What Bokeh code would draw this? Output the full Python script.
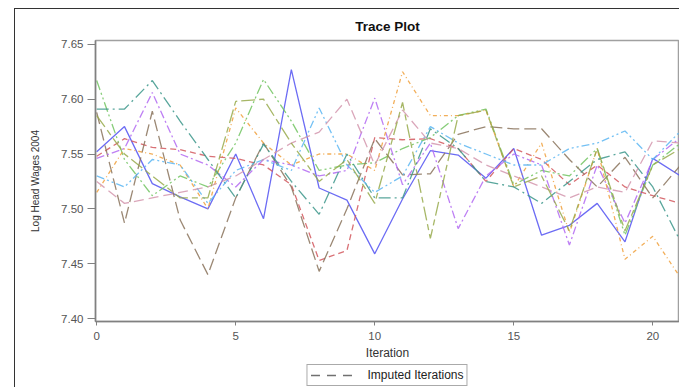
from bokeh.plotting import figure
from bokeh.layouts import column
from bokeh.models import Legend, LegendItem, Range1d, FixedTicker, NumeralTickFormatter, Span
from bokeh.embed import file_html
from bokeh.resources import INLINE

iterations = list(range(22))

blue   = [7.552, 7.575, 7.523, 7.511, 7.500, 7.550, 7.491, 7.627, 7.519, 7.508, 7.459, 7.509, 7.553, 7.549, 7.528, 7.555, 7.476, 7.485, 7.505, 7.470, 7.546, 7.530]
red    = [7.548, 7.564, 7.556, 7.554, 7.548, 7.546, 7.540, 7.522, 7.453, 7.462, 7.565, 7.563, 7.564, 7.555, 7.525, 7.555, 7.545, 7.522, 7.540, 7.520, 7.512, 7.505]
green  = [7.617, 7.545, 7.512, 7.530, 7.520, 7.560, 7.618, 7.580, 7.535, 7.540, 7.542, 7.555, 7.565, 7.585, 7.591, 7.522, 7.535, 7.530, 7.555, 7.476, 7.540, 7.560]
brown  = [7.588, 7.487, 7.589, 7.490, 7.440, 7.510, 7.560, 7.520, 7.443, 7.500, 7.564, 7.531, 7.532, 7.568, 7.575, 7.573, 7.573, 7.545, 7.520, 7.547, 7.510, 7.540]
purple = [7.546, 7.555, 7.606, 7.550, 7.540, 7.520, 7.545, 7.540, 7.530, 7.535, 7.601, 7.522, 7.560, 7.482, 7.530, 7.550, 7.540, 7.467, 7.540, 7.487, 7.545, 7.565]
orange = [7.515, 7.555, 7.550, 7.540, 7.500, 7.592, 7.560, 7.540, 7.550, 7.550, 7.535, 7.625, 7.585, 7.585, 7.590, 7.520, 7.560, 7.478, 7.555, 7.454, 7.475, 7.437]
teal   = [7.591, 7.591, 7.617, 7.580, 7.545, 7.510, 7.559, 7.525, 7.495, 7.550, 7.510, 7.510, 7.573, 7.555, 7.525, 7.520, 7.505, 7.525, 7.545, 7.552, 7.520, 7.470]
ltblue = [7.530, 7.520, 7.545, 7.540, 7.505, 7.535, 7.545, 7.535, 7.592, 7.540, 7.515, 7.530, 7.575, 7.560, 7.550, 7.540, 7.540, 7.555, 7.560, 7.571, 7.545, 7.571]
pink   = [7.525, 7.505, 7.510, 7.515, 7.520, 7.530, 7.545, 7.560, 7.570, 7.600, 7.540, 7.590, 7.560, 7.555, 7.540, 7.530, 7.520, 7.510, 7.520, 7.515, 7.562, 7.560]
olive  = [7.585, 7.550, 7.530, 7.510, 7.510, 7.598, 7.600, 7.560, 7.525, 7.545, 7.505, 7.597, 7.473, 7.585, 7.590, 7.520, 7.530, 7.480, 7.555, 7.480, 7.540, 7.555]

series = [
    (blue,   "#5252f2", "solid"),
    (red,    "#d2585e", "6 4"),
    (green,  "#72c462", "10 3 2 3 2 3"),
    (brown,  "#8a735c", "12 5"),
    (purple, "#b36af2", "8 3 2 3"),
    (orange, "#f0a03c", "4 3 1 3"),
    (teal,   "#3c978b", "12 4 2 4"),
    (ltblue, "#5cb6f2", "8 3 2 3 2 3"),
    (pink,   "#d496ae", "10 5"),
    (olive,  "#98aa4c", "14 4 6 4"),
]

y_ticks = [7.40, 7.45, 7.50, 7.55, 7.60, 7.65]
x_ticks = [0, 5, 10, 15, 20]

p = figure(width=664, height=353, output_backend="svg", toolbar_location=None,
           x_range=Range1d(-0.043, 20.96), y_range=Range1d(7.3973, 7.6535),
           min_border_left=80, min_border_right=0, min_border_top=28, min_border_bottom=39,
           title="Trace Plot")

p.title.align = "center"
p.title.text_font = "Liberation Sans"
p.title.text_font_size = "13.5px"
p.title.text_font_style = "bold"
p.title.text_color = "#111111"
p.title.standoff = 14

p.grid.visible = False
p.outline_line_color = "#a0a0a0"
p.outline_line_width = 1.5

for ax in (p.xaxis, p.yaxis):
    ax.axis_line_color = "#808080"
    ax.axis_line_width = 1.5
    ax.major_tick_line_color = "#808080"
    ax.major_tick_in = 0
    ax.minor_tick_line_color = None
    ax.major_label_text_font = "Liberation Sans"
    ax.major_label_text_font_size = "11.5px"
    ax.major_label_text_color = "#555555"
    ax.axis_label_text_font_style = "normal"
    ax.axis_label_text_color = "#333333"

p.yaxis.major_tick_out = 8
p.yaxis.major_label_standoff = 4
p.xaxis.major_tick_out = 4
p.xaxis.major_label_standoff = 6

p.yaxis.ticker = FixedTicker(ticks=y_ticks)
p.yaxis.formatter = NumeralTickFormatter(format="0.00")
p.yaxis.axis_label = "Log Head Wages 2004"
p.yaxis.axis_label_text_font = "Liberation Sans"
p.yaxis.axis_label_text_font_size = "10px"
p.yaxis.axis_label_standoff = 17
p.xaxis.ticker = FixedTicker(ticks=x_ticks)
p.xaxis.axis_label = "Iteration"
p.xaxis.axis_label_text_font = "Liberation Sans"
p.xaxis.axis_label_text_font_size = "12px"
p.xaxis.axis_label_standoff = 3

for vals, color, dash in series:
    p.line(iterations, vals, line_color=color, line_dash=dash, line_width=1.3, line_alpha=0.85)

p.add_layout(Span(location=21, dimension="height", line_color="#c8c8c8", line_dash="6 4", line_width=1.5))

# legend strip
p2 = figure(width=664, height=25, output_backend="svg", toolbar_location=None,
            x_range=Range1d(0, 1), y_range=Range1d(0, 1),
            min_border_left=80, min_border_right=0, min_border_top=0, min_border_bottom=0)
p2.axis.visible = False
p2.grid.visible = False
p2.outline_line_color = None
legend_r = p2.line([0, 1], [5, 5], line_color="#707070", line_dash="9 7", line_width=1.3)
legend = Legend(items=[LegendItem(label="Imputed Iterations", renderers=[legend_r])],
                orientation="horizontal", location="center",
                border_line_color="#555555", border_line_width=1,
                background_fill_alpha=0,
                label_text_font="Liberation Sans", label_text_font_size="12px",
                label_text_color="#222222", glyph_width=42, glyph_height=10,
                label_height=10, padding=3, margin=0, spacing=0,
                label_standoff=15)
p2.add_layout(legend, "center")

layout = column(p, p2, spacing=0,
                styles={"margin-left": "14px", "margin-top": "8px",
                        "border-left": "1.5px solid #333", "border-top": "1.5px solid #333"})

open("out.html", "w").write(file_html(layout, INLINE))
